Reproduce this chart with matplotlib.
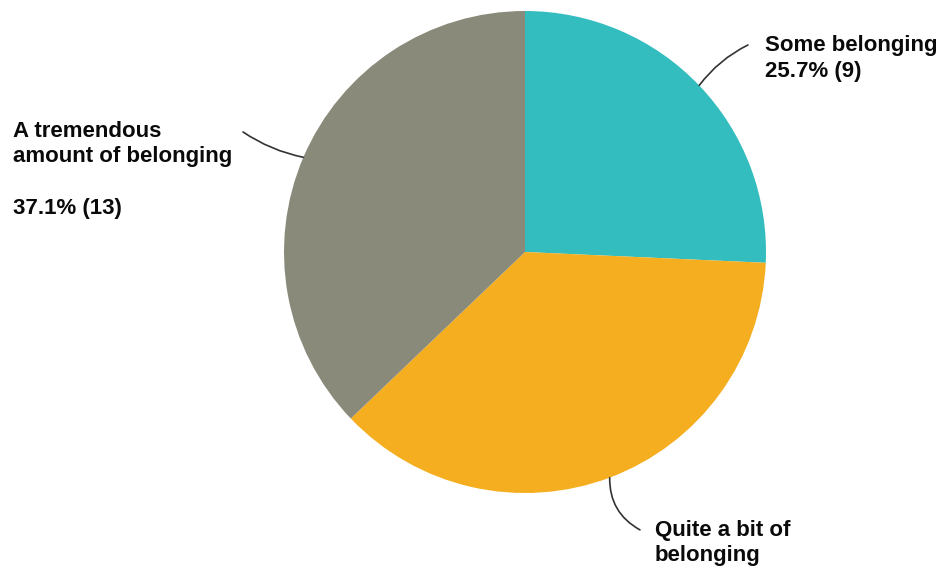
import matplotlib
matplotlib.use('Agg')
import matplotlib.pyplot as plt
import numpy as np

labels = ['Some belonging', 'Quite a bit of\nbelonging', 'A tremendous\namount of belonging\n']
counts = [9, 13, 13]
colors = ['#33bdbf', '#f5ae1f', '#8a8a7a']
show_pct = [True, False, True]

plt.rcParams['font.family'] = ['Liberation Sans', 'DejaVu Sans']

fig = plt.figure(figsize=(9.44, 5.71), dpi=100)
ax = fig.add_axes([284/944, 78/571, 482/944, 482/571])

wedges, _ = ax.pie(counts, colors=colors, startangle=90, counterclock=False,
                   radius=1, wedgeprops=dict(linewidth=0))
ax.set_xlim(-1, 1)
ax.set_ylim(-1, 1)
ax.set_aspect('equal')
ax.axis('off')

total = sum(counts)
# label placement: (text x, text top y, leader end x, leader end y, curve)
place = [(0.996, 0.9, 0.925, 0.859, 0.12),
         (0.539, -1.11, 0.477, -1.153, -0.3),
         (-2.124, 0.545, -1.17, 0.498, 0.1)]

for w, lab, n, sp, (tx, ty, lx, ly, rad) in zip(wedges, labels, counts, show_pct, place):
    mid = np.deg2rad((w.theta1 + w.theta2) / 2)
    px, py = np.cos(mid), np.sin(mid)
    txt = lab
    if sp:
        txt = lab + '\n' + f'{100*n/total:.1f}% ({n})'
    ax.text(tx, ty, txt, ha='left', va='top', fontsize=16, fontweight='bold',
            color='#0a0a0a', linespacing=1.3, clip_on=False)
    ax.annotate('', xy=(px, py), xytext=(lx, ly), annotation_clip=False,
                arrowprops=dict(arrowstyle='-', color='#333333', lw=1.2,
                                shrinkA=0, shrinkB=0,
                                connectionstyle=f'arc3,rad={rad}'))

fig.savefig('out.png', dpi=100)
